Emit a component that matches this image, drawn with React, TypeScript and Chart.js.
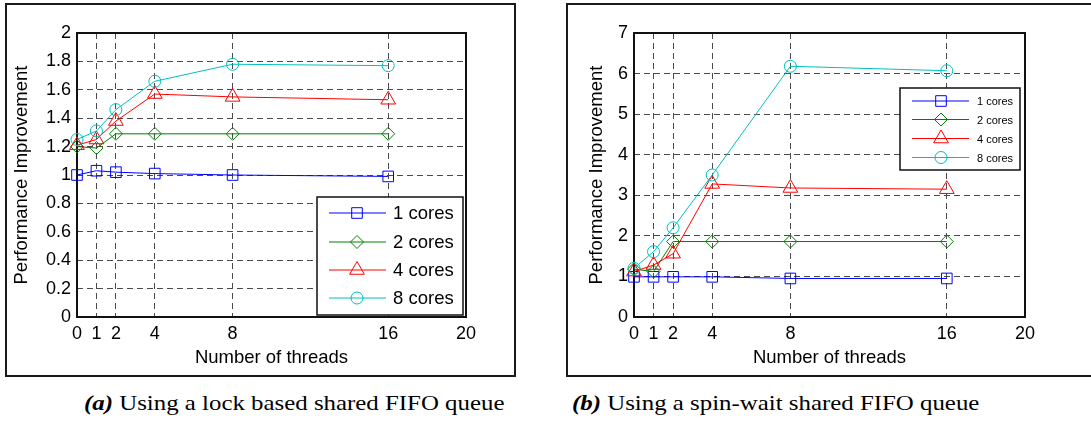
import React, { useEffect, useRef } from "react";
import { Chart, registerables } from "chart.js";

Chart.register(...registerables);

// ---------- data ----------
const threads = [0, 1, 2, 4, 8, 16];
const xTickValues = [0, 1, 2, 4, 8, 16, 20];
const seriesLabels = ["1 cores", "2 cores", "4 cores", "8 cores"];

const lockCores1 = [1.0, 1.03, 1.02, 1.01, 1.0, 0.99];
const lockCores2 = [1.2, 1.19, 1.29, 1.29, 1.29, 1.29];
const lockCores4 = [1.21, 1.25, 1.38, 1.57, 1.55, 1.53];
const lockCores8 = [1.25, 1.31, 1.46, 1.66, 1.78, 1.77];
const lockYTicks = [0, 0.2, 0.4, 0.6, 0.8, 1, 1.2, 1.4, 1.6, 1.8, 2];

const spinCores1 = [0.99, 0.99, 0.99, 0.99, 0.95, 0.95];
const spinCores2 = [1.18, 1.12, 1.86, 1.86, 1.86, 1.86];
const spinCores4 = [1.12, 1.28, 1.56, 3.28, 3.18, 3.15];
const spinCores8 = [1.2, 1.61, 2.2, 3.5, 6.18, 6.07];
const spinYTicks = [0, 1, 2, 3, 4, 5, 6, 7];

const xTitle = "Number of threads";
const yTitle = "Performance Improvement";
const captionA = "Using a lock based shared FIFO queue";
const captionB = "Using a spin-wait shared FIFO queue";

// ---------- styles ----------
const COLORS = ["#0000ff", "#008000", "#ff0000", "#00bfbf"];
const STYLES = ["rect", "rectRot", "triangle", "circle"];
const RADII = [7.5, 6.5, 8.5, 6];
const SANS = "'Liberation Sans', Arial, Helvetica, sans-serif";

function drawMarker(ctx: CanvasRenderingContext2D, style: string, x: number, y: number, r: number) {
  ctx.beginPath();
  if (style === "rect") {
    const s = Math.SQRT1_2 * r;
    ctx.rect(x - s, y - s, 2 * s, 2 * s);
  } else if (style === "rectRot") {
    ctx.moveTo(x, y - r);
    ctx.lineTo(x + r, y);
    ctx.lineTo(x, y + r);
    ctx.lineTo(x - r, y);
    ctx.closePath();
  } else if (style === "triangle") {
    let a = 0;
    ctx.moveTo(x + Math.sin(a) * r, y - Math.cos(a) * r);
    a += (2 * Math.PI) / 3;
    ctx.lineTo(x + Math.sin(a) * r, y - Math.cos(a) * r);
    a += (2 * Math.PI) / 3;
    ctx.lineTo(x + Math.sin(a) * r, y - Math.cos(a) * r);
    ctx.closePath();
  } else {
    ctx.arc(x, y, r, 0, Math.PI * 2);
  }
  ctx.stroke();
}

type LegendCfg = {
  box: [number, number, number, number];
  lineX1: number;
  lineX2: number;
  markX: number;
  textX: number;
  rows: number[];
  font: number;
};

type PanelCfg = {
  left: number;
  width: number;
  yAxisWidth: number;
  yTitlePad: number;
  padRight: number;
  yMax: number;
  yTicks: number[];
  series: number[][];
  legend: LegendCfg;
};

function framePlugin() {
  return {
    id: "frame",
    beforeDatasetsDraw(chart: any) {
      const { ctx, chartArea: a } = chart;
      ctx.save();
      ctx.strokeStyle = "#111";
      ctx.lineWidth = 2;
      ctx.setLineDash([]);
      ctx.strokeRect(a.left, a.top, a.right - a.left, a.bottom - a.top);
      ctx.restore();
    },
  };
}

function legendPlugin(cfg: LegendCfg) {
  return {
    id: "boxLegend",
    afterDraw(chart: any) {
      const ctx: CanvasRenderingContext2D = chart.ctx;
      ctx.save();
      const [bx, by, bw, bh] = cfg.box;
      ctx.fillStyle = "#fff";
      ctx.fillRect(bx, by, bw, bh);
      ctx.strokeStyle = "#111";
      ctx.lineWidth = 1.5;
      ctx.setLineDash([]);
      ctx.strokeRect(bx, by, bw, bh);
      chart.data.datasets.forEach((ds: any, i: number) => {
        const y = cfg.rows[i];
        ctx.strokeStyle = ds.borderColor;
        ctx.lineWidth = 1;
        ctx.beginPath();
        ctx.moveTo(cfg.lineX1, y);
        ctx.lineTo(cfg.lineX2, y);
        ctx.stroke();
        ctx.fillStyle = "#fff";
        drawMarker(ctx, ds.pointStyle, cfg.markX, y, ds.pointRadius);
        ctx.fillStyle = "#000";
        ctx.font = `${cfg.font}px ${SANS}`;
        ctx.textBaseline = "middle";
        ctx.textAlign = "left";
        ctx.fillText(ds.label, cfg.textX, y + 1);
      });
      ctx.restore();
    },
  };
}

function Panel({ cfg }: { cfg: PanelCfg }) {
  const ref = useRef<HTMLCanvasElement>(null);
  useEffect(() => {
    const canvas = ref.current!;
    const datasets = cfg.series.map((vals, i) => ({
      label: seriesLabels[i],
      data: threads.map((t, j) => ({ x: t, y: vals[j] })),
      borderColor: COLORS[i],
      backgroundColor: "transparent",
      borderWidth: 1,
      pointStyle: STYLES[i],
      pointRadius: RADII[i],
      pointBorderColor: COLORS[i],
      pointBackgroundColor: "transparent",
      pointBorderWidth: 1,
      pointHoverRadius: RADII[i],
      tension: 0,
      clip: false as any,
      order: 3 - i,
    }));
    const chart = new Chart(canvas, {
      type: "line",
      data: { datasets },
      plugins: [framePlugin(), legendPlugin(cfg.legend)],
      options: {
        animation: false,
        responsive: false,
        events: [],
        layout: { padding: { left: 0, top: 33, right: cfg.padRight, bottom: 3 } },
        plugins: { legend: { display: false }, tooltip: { enabled: false } },
        scales: {
          x: {
            type: "linear",
            min: 0,
            max: 20,
            afterBuildTicks: (s: any) => {
              s.ticks = xTickValues.map((v) => ({ value: v }));
            },
            afterFit: (s: any) => {
              s.height = 60;
            },
            ticks: {
              color: "#000",
              font: { family: SANS, size: 18 },
              padding: 6,
              maxRotation: 0,
              autoSkip: false,
              callback: (v: any) => String(v),
            },
            grid: { color: "#4a4a4a", lineWidth: 1, drawTicks: false },
            border: { display: false, dash: [6, 4] },
            title: {
              display: true,
              text: xTitle,
              color: "#000",
              font: { family: SANS, size: 18.5 },
              padding: { top: 0, bottom: 8 },
            },
          },
          y: {
            type: "linear",
            min: 0,
            max: cfg.yMax,
            afterBuildTicks: (s: any) => {
              s.ticks = cfg.yTicks.map((v) => ({ value: v }));
            },
            afterFit: (s: any) => {
              s.width = cfg.yAxisWidth;
            },
            ticks: {
              color: "#000",
              font: { family: SANS, size: 18 },
              padding: 6,
              autoSkip: false,
              callback: (v: any) => String(v),
            },
            grid: { color: "#4a4a4a", lineWidth: 1, drawTicks: false },
            border: { display: false, dash: [6, 4] },
            title: {
              display: true,
              text: yTitle,
              color: "#000",
              font: { family: SANS, size: 18.5 },
              padding: { top: cfg.yTitlePad, bottom: 0 },
            },
          },
        },
      } as any,
    });
    return () => chart.destroy();
  }, [cfg]);
  return (
    <canvas
      ref={ref}
      width={cfg.width}
      height={380}
      style={{ position: "absolute", left: cfg.left, top: 0, width: cfg.width, height: 380 }}
    />
  );
}

const lockPanel: PanelCfg = {
  left: 0,
  width: 545,
  yAxisWidth: 77,
  yTitlePad: 11,
  padRight: 79,
  yMax: 2,
  yTicks: lockYTicks,
  series: [lockCores1, lockCores2, lockCores4, lockCores8],
  legend: {
    box: [317, 197, 146, 118],
    lineX1: 329,
    lineX2: 386,
    markX: 357,
    textX: 393,
    rows: [213, 242, 270, 298],
    font: 18.5,
  },
};

const spinPanel: PanelCfg = {
  left: 545,
  width: 546,
  yAxisWidth: 89,
  yTitlePad: 41,
  padRight: 66,
  yMax: 7,
  yTicks: spinYTicks,
  series: [spinCores1, spinCores2, spinCores4, spinCores8],
  legend: {
    box: [355, 88, 120, 82],
    lineX1: 367,
    lineX2: 424,
    markX: 396,
    textX: 432,
    rows: [101, 119.5, 138.5, 157.5],
    font: 11,
  },
};

const captionStyle: React.CSSProperties = {
  position: "absolute",
  top: 391,
  fontFamily: "'Liberation Serif', 'Times New Roman', serif",
  fontSize: 22,
  lineHeight: "24px",
  whiteSpace: "nowrap",
  color: "#000",
  transform: "scaleX(1.13)",
  transformOrigin: "left top",
};

export default function App() {
  return (
    <div
      style={{
        position: "absolute",
        left: 0,
        top: 0,
        width: 1091,
        height: 422,
        overflow: "hidden",
        background: "#fff",
      }}
    >
      <div
        style={{
          position: "absolute",
          left: 5,
          top: 3,
          width: 507,
          height: 370,
          border: "2px solid #1a1a1a",
        }}
      />
      <div
        style={{
          position: "absolute",
          left: 566,
          top: 3,
          width: 600,
          height: 370,
          border: "2px solid #1a1a1a",
        }}
      />
      <Panel cfg={lockPanel} />
      <Panel cfg={spinPanel} />
      <div style={{ ...captionStyle, left: 84 }}>
        <b>
          <i>(a)</i>
        </b>{" "}
        {captionA}
      </div>
      <div style={{ ...captionStyle, left: 572 }}>
        <b>
          <i>(b)</i>
        </b>{" "}
        {captionB}
      </div>
    </div>
  );
}
